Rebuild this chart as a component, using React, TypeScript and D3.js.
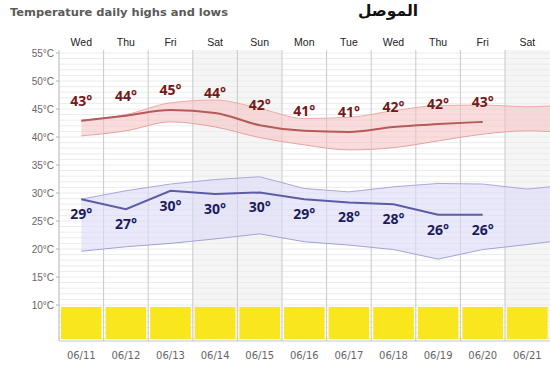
import React from "react";
import * as d3 from "d3";

const days = ["Wed", "Thu", "Fri", "Sat", "Sun", "Mon", "Tue", "Wed", "Thu", "Fri", "Sat"];
const dates = ["06/11", "06/12", "06/13", "06/14", "06/15", "06/16", "06/17", "06/18", "06/19", "06/20", "06/21"];
const weekend = [false, false, false, true, true, false, false, false, false, false, true];
const yTicks = [55, 50, 45, 40, 35, 30, 25, 20, 15, 10];

const highLabels = [43, 44, 45, 44, 42, 41, 41, 42, 42, 43];
const lowLabels = [29, 27, 30, 30, 30, 29, 28, 28, 26, 26];
const highLine = [42.9, 43.8, 44.8, 44.3, 42.1, 41.1, 40.9, 41.8, 42.3, 42.7];
const lowLine = [28.9, 27.1, 30.4, 29.8, 30.1, 28.9, 28.3, 28.0, 26.1, 26.1];

// normal ranges (one extra day beyond the visible edge)
const highBandTop = [43.0, 44.0, 46.1, 46.6, 45.1, 43.3, 43.5, 44.7, 45.6, 45.7, 45.4, 45.8];
const highBandBottom = [40.2, 41.1, 42.7, 41.8, 39.9, 38.6, 37.7, 38.1, 39.3, 40.5, 41.1, 40.7];
const lowBandTop = [28.9, 30.4, 31.6, 32.4, 32.9, 30.8, 30.2, 31.1, 31.7, 31.6, 30.7, 31.5];
const lowBandBottom = [19.6, 20.4, 21.0, 21.8, 22.7, 21.3, 20.7, 19.9, 18.2, 19.9, 20.8, 21.8];

const W = 550;
const H = 366;
const left = 59;
const right = 549.6;
const plotTop = 50;
const plotBottom = 341;

export default function App() {
  const x = d3.scaleLinear().domain([0, days.length]).range([left, right]);
  const y = d3.scaleLinear().domain([10, 55]).range([305, 53]);
  const cx = (i: number) => x(i + 0.5);

  const minorTicks = d3.range(4, 56, 1);

  const bandArea = (top: number[], bot: number[], curve: any) =>
    d3
      .area<number>()
      .x((_, i) => cx(i))
      .y0((_, i) => y(bot[i]))
      .y1((_, i) => y(top[i]))
      .curve(curve)(top.map((_, i) => i)) || "";
  const edge = (vals: number[], curve: any) =>
    d3
      .line<number>()
      .x((_, i) => cx(i))
      .y((v) => y(v))
      .curve(curve)(vals) || "";

  const hc = d3.curveMonotoneX;
  const lc = d3.curveLinear;

  return (
    <svg
      width={W}
      height={H}
      style={{ position: "absolute", left: 0, top: 0, background: "#fff" }}
    >
      <defs>
        <clipPath id="plot">
          <rect x={left} y={plotTop} width={W - left} height={plotBottom - plotTop} />
        </clipPath>
      </defs>
      <text
        x={10}
        y={16}
        fontFamily="DejaVu Sans"
        fontWeight="bold"
        fontSize={11}
        fill="#5a5a5a"
        textLength={218}
        lengthAdjust="spacingAndGlyphs"
      >
        Temperature daily highs and lows
      </text>
      <text
        x={388}
        y={16}
        fontFamily="DejaVu Sans"
        fontWeight="bold"
        fontSize={15.5}
        fill="#111"
        textAnchor="middle"
        direction="rtl"
      >
        الموصل
      </text>

      {/* weekend shading */}
      {days.map((_, i) =>
        weekend[i] ? (
          <rect key={"w" + i} x={x(i)} y={plotTop} width={x(i + 1) - x(i)} height={plotBottom - plotTop} fill="#f5f5f5" />
        ) : null
      )}

      {/* horizontal grid */}
      {minorTicks.map((t) => (
        <line key={"h" + t} x1={left} x2={W} y1={y(t)} y2={y(t)} stroke="#ececec" strokeWidth={1} />
      ))}

      {/* vertical grid */}
      {days.map((_, i) => (
        <line key={"v" + i} x1={x(i)} x2={x(i)} y1={plotTop} y2={plotBottom} stroke={i === 0 ? "#b4b4b4" : "#c8c8c8"} strokeWidth={1} />
      ))}
      <line x1={left} x2={W} y1={plotBottom} y2={plotBottom} stroke="#c8c8c8" />

      {/* y ticks */}
      {yTicks.map((t) => (
        <g key={"t" + t}>
          <line x1={left - 3} x2={left} y1={y(t)} y2={y(t)} stroke="#b4b4b4" />
          <text x={54} y={y(t)} dy="0.35em" textAnchor="end" fontFamily="Liberation Sans" fontSize={10} fill="#666">
            {t}°C
          </text>
        </g>
      ))}

      {/* day names */}
      {days.map((d, i) => (
        <text key={"d" + i} x={cx(i)} y={42} dy="0.35em" textAnchor="middle" fontFamily="Liberation Sans" fontSize={10.5} fill="#222">
          {d}
        </text>
      ))}
      {/* dates */}
      {dates.map((d, i) => (
        <text key={"dt" + i} x={cx(i)} y={355} dy="0.35em" textAnchor="middle" fontFamily="DejaVu Sans" fontSize={10} fill="#666">
          {d}
        </text>
      ))}

      <g clipPath="url(#plot)">
        {/* high band */}
        <path d={bandArea(highBandTop, highBandBottom, hc)} fill="#f7c0c0" fillOpacity={0.55} />
        <path d={edge(highBandTop, hc)} fill="none" stroke="#eeaaaa" strokeWidth={1} />
        <path d={edge(highBandBottom, hc)} fill="none" stroke="#e6a2a2" strokeWidth={1} />
        {/* low band */}
        <path d={bandArea(lowBandTop, lowBandBottom, lc)} fill="#dadaf8" fillOpacity={0.6} />
        <path d={edge(lowBandTop, lc)} fill="none" stroke="#a8a8de" strokeWidth={1} />
        <path d={edge(lowBandBottom, lc)} fill="none" stroke="#a2a2d8" strokeWidth={1} />
      </g>

      {/* lines */}
      <path d={edge(highLine, hc)} fill="none" stroke="#b55a5a" strokeWidth={2} />
      <path d={edge(lowLine, lc)} fill="none" stroke="#5c5ca6" strokeWidth={2} />

      {/* labels */}
      {highLabels.map((v, i) => (
        <text key={"hl" + i} x={cx(i)} y={y(highLine[i]) - 20} dy="0.35em" textAnchor="middle" fontFamily="Open Sans" fontWeight="bold" fontSize={14} fill="#751818">
          {v}°
        </text>
      ))}
      {lowLabels.map((v, i) => (
        <text key={"ll" + i} x={cx(i)} y={y(lowLine[i]) + 15} dy="0.35em" textAnchor="middle" fontFamily="Open Sans" fontWeight="bold" fontSize={14} fill="#1c1c5c">
          {v}°
        </text>
      ))}

      {/* weather icon boxes */}
      {days.map((_, i) => (
        <rect key={"b" + i} x={x(i) + 2} y={307} width={x(i + 1) - x(i) - 4} height={32} fill="#fae61c" />
      ))}
    </svg>
  );
}
